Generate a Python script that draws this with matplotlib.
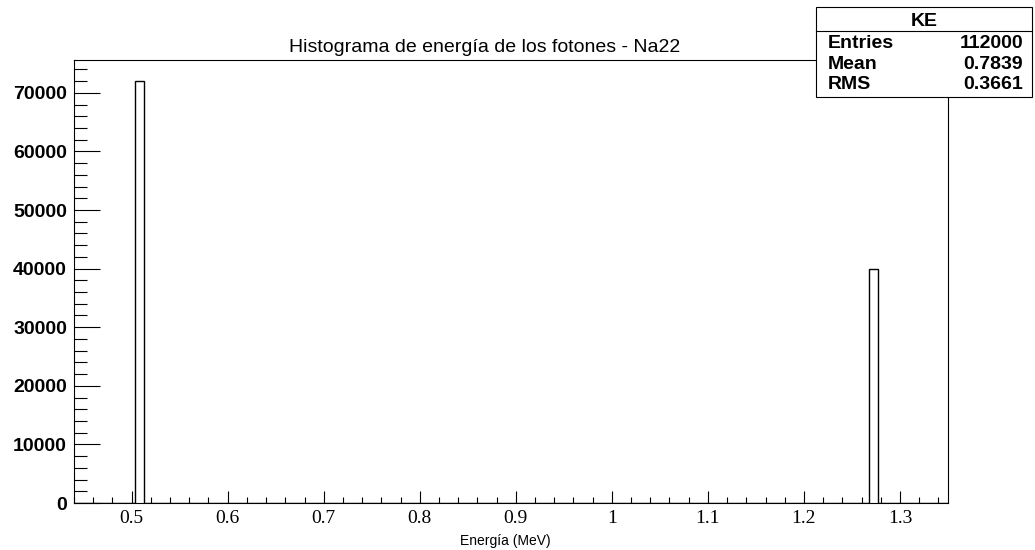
import matplotlib.pyplot as plt
from matplotlib.patches import Rectangle
from matplotlib.lines import Line2D
from matplotlib.ticker import MultipleLocator, FuncFormatter

# Datos del histograma (picos del Na22)
energias = [0.511, 1.275]       # MeV
cuentas = [72000, 40000]
n_bins = 100
rango = (0.44, 1.35)

# Caja de estadisticas
stats_nombre = 'KE'
stats_etiquetas = ['Entries', 'Mean', 'RMS']
stats_valores = ['112000', '0.7839', '0.3661']

W, H = 1035, 550
fig = plt.figure(figsize=(W / 100, H / 100), dpi=100)
ax = fig.add_axes([74 / W, 1 - 503 / H, (948 - 74) / W, (503 - 60) / H])

ax.hist(energias, bins=n_bins, range=rango, weights=cuentas,
        histtype='step', color='black', linewidth=1.0)

ax.set_xlim(rango)
ax.set_ylim(0, max(cuentas) * 1.05)

ax.xaxis.set_major_locator(MultipleLocator(0.1))
ax.xaxis.set_minor_locator(MultipleLocator(0.02))
ax.yaxis.set_major_locator(MultipleLocator(10000))
ax.yaxis.set_minor_locator(MultipleLocator(2000))
ax.xaxis.set_major_formatter(FuncFormatter(lambda v, p: f'{v:g}'))

ax.tick_params(axis='x', which='major', direction='in', length=8.6, width=0.8,
               pad=5, labelsize=14, top=False)
ax.tick_params(axis='x', which='minor', direction='in', length=4.3, width=0.8, top=False)
ax.tick_params(axis='y', which='major', direction='in', length=18.7, width=0.8,
               pad=5, labelsize=14, right=False)
ax.tick_params(axis='y', which='minor', direction='in', length=9.4, width=0.8, right=False)

for lab in ax.get_xticklabels():
    lab.set_fontfamily('Liberation Serif')
for lab in ax.get_yticklabels():
    lab.set_fontfamily('Liberation Sans')
    lab.set_fontweight('bold')

for s in ax.spines.values():
    s.set_color('black')
    s.set_linewidth(0.8)

# Titulo y etiqueta del eje
fig.text(485 / W, 1 - 51.7 / H, 'Histograma de energía de los fotones - Na22',
         ha='center', va='baseline', fontsize=14, family='Liberation Sans')
fig.text(505 / W, 1 - 545 / H, 'Energía (MeV)',
         ha='center', va='baseline', fontsize=10, family='Liberation Sans')

# Caja de estadisticas
x0, x1, y0, y1, ysep = 816, 1032, 7, 97, 30.7
fig.patches.append(Rectangle((x0 / W, 1 - y1 / H), (x1 - x0) / W, (y1 - y0) / H,
                             transform=fig.transFigure, facecolor='white',
                             edgecolor='black', linewidth=0.8, zorder=5))
fig.lines.append(Line2D([x0 / W, x1 / W], [1 - ysep / H, 1 - ysep / H],
                        transform=fig.transFigure, color='black', linewidth=0.8, zorder=6))
fig.text((x0 + x1) / 2 / W, 1 - 21.5 / H, stats_nombre, ha='center', va='center',
         fontsize=14, fontweight='bold', family='Liberation Sans', zorder=7)
for i, (et, val) in enumerate(zip(stats_etiquetas, stats_valores)):
    yb = 1 - (48 + i * 20.7) / H
    fig.text(828 / W, yb, et, ha='left', va='baseline', fontsize=14,
             fontweight='bold', family='Liberation Sans', zorder=7)
    fig.text(1023 / W, yb, val, ha='right', va='baseline', fontsize=14,
             fontweight='bold', family='Liberation Sans', zorder=7)

fig.savefig('out.png', dpi=100)
